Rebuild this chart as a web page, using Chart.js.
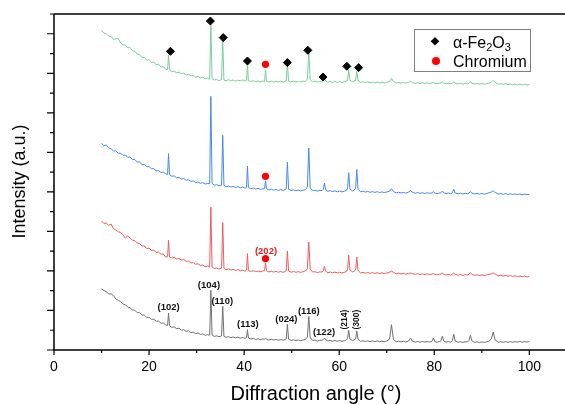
<!DOCTYPE html>
<html lang="en">
<head>
    <meta charset="UTF-8">
    <title>XRD patterns</title>
    <script src="https://cdn.jsdelivr.net/npm/chart.js"></script>
    <style>
        html, body { margin: 0; padding: 0; background: #fff; overflow: hidden; }
        canvas { display: block; }
    </style>
</head>
<body>
    <canvas id="xrdChart" width="565" height="405"></canvas>

    <script>
        // 2-theta positions shared by all four patterns
        const twoTheta = [
            10, 10.5, 11, 11.5, 12, 12.5, 13, 13.5, 14, 14.5, 15, 15.5, 16, 16.5, 17, 17.5, 18, 18.5, 19, 19.5, 20, 20.5, 21, 21.5, 22, 22.5, 23, 23.5,
            23.9, 24.1, 24.3,
            24.8, 25.3, 25.8, 26.3, 26.8, 27.3, 27.8, 28.3, 28.8, 29.3, 29.8, 30.3, 30.8, 31.3, 31.8, 32.3,
            32.75, 33.0, 33.25,
            33.7, 34.2, 34.7,
            35.25, 35.5, 35.75,
            36.2, 36.7, 37.2, 37.7, 38.2, 38.7, 39.2, 39.7, 40.2,
            40.5, 40.7, 40.9,
            41.4, 41.9, 42.4, 42.9, 43.4, 43.9,
            44.3, 44.5, 44.7,
            45.2, 45.7, 46.2, 46.7, 47.2, 47.7, 48.2, 48.6,
            48.85, 49.1, 49.35,
            49.9, 50.4, 50.9, 51.4, 51.9, 52.4, 52.9,
            53.3, 53.6, 53.9,
            54.4, 54.9, 55.4, 55.9, 56.4,
            56.65, 56.9, 57.15,
            57.6, 58.1, 58.6, 59.1, 59.6, 60.1, 60.6, 61.1, 61.5,
            61.75, 62.0, 62.25,
            62.85,
            63.45, 63.7, 63.95,
            64.5, 65, 65.5, 66, 66.5, 67, 67.5, 68, 68.5, 69, 69.5, 70,
            70.6, 71.0, 71.4,
            72, 72.5, 73, 73.5, 74,
            74.6, 75.0, 75.4,
            76, 76.5, 77, 77.5, 78, 78.5, 79,
            79.5, 79.8, 80.1,
            80.6, 81.1,
            81.4, 81.7, 82.0,
            82.5, 83, 83.5,
            83.8, 84.1, 84.4,
            85, 85.5, 86, 86.5, 87,
            87.3, 87.6, 87.9,
            88.5, 89, 89.5, 90, 90.5, 91, 91.5,
            92.0, 92.4, 92.8,
            93.5, 94, 94.5, 95, 95.5, 96, 96.5, 97, 97.5, 98, 98.5, 99, 99.5, 100
        ];

        // top pattern (green)
        const patternGreen = [
            319.5, 317.0, 316.2, 313.8, 313.5, 310.6, 311.2, 311.6, 307.0, 305.2, 305.0, 302.1, 302.4, 299.3, 298.8, 296.0, 295.5, 292.4, 292.6, 289.8, 290.3, 287.5, 288.0, 285.3, 285.8, 283.0, 283.4, 280.6,
            280.4, 294.7, 280.9,
            278.2, 279.0, 277.2, 277.9, 276.3, 276.9, 275.0, 275.7, 274.0, 274.6, 273.0, 273.6, 272.1, 272.9, 271.2, 271.8,
            270.8, 327.0, 271.2,
            270.0, 270.6, 269.4,
            270.3, 309.7, 269.8,
            269.2, 270.3, 269.1, 270.0, 268.9, 269.9, 269.2, 270.1, 269.0,
            269.6, 286.7, 269.3,
            268.4, 269.3, 268.2, 269.0, 268.1, 268.9,
            268.6, 280.2, 268.9,
            268.0, 268.9, 267.9, 268.8, 268.1, 268.9, 267.8, 268.6,
            269.2, 286.7, 268.8,
            268.0, 268.9, 267.9, 268.7, 268.0, 268.8, 268.6,
            271.0, 297.7, 270.5,
            268.2, 268.9, 267.9, 268.6, 268.3,
            269.2, 272.7, 269.0,
            267.8, 268.6, 267.7, 268.5, 267.6, 268.4, 267.5, 268.3, 268.5,
            270.0, 280.2, 269.8,
            268.2,
            269.8, 279.2, 269.5,
            267.6, 268.3, 267.4, 268.1, 267.3, 268.0, 267.2, 267.9, 267.1, 267.8, 267.0, 267.7,
            268.6, 271.7, 268.3,
            267.0, 267.6, 266.8, 267.5, 266.9,
            267.6, 268.9, 267.4,
            266.6, 267.3, 266.5, 267.2, 266.4, 267.1, 266.5,
            266.8, 267.8, 266.6,
            266.3, 267.0,
            267.0, 268.2, 266.8,
            266.2, 266.9, 266.1,
            266.8, 268.2, 266.6,
            266.0, 266.7, 265.9, 266.6, 266.2,
            266.8, 268.5, 266.7,
            265.9, 266.6, 265.8, 266.5, 265.8, 266.4, 266.9,
            268.0, 269.7, 267.6,
            265.7, 266.3, 265.6, 266.2, 265.4, 266.0, 265.3, 265.9, 265.2, 265.8, 265.1, 265.7, 265.0, 265.5
        ];

        // second pattern (blue)
        const patternBlue = [
            206.8, 204.2, 205.0, 202.0, 201.3, 199.0, 199.1, 196.8, 197.0, 194.6, 195.1, 192.7, 193.0, 190.4, 190.5, 188.0, 188.1, 185.3, 185.6, 183.2, 183.5, 181.2, 181.4, 179.2, 179.5, 177.5, 178.0, 176.0,
            175.6, 196.4, 175.3,
            173.8, 174.1, 172.2, 172.7, 171.0, 171.5, 169.8, 170.2, 168.6, 169.1, 167.5, 168.0, 166.7, 167.3, 166.0, 166.5,
            166.4, 253.7, 166.6,
            164.8, 165.3, 164.2,
            165.0, 214.7, 164.6,
            163.4, 164.0, 163.0, 163.6, 162.6, 163.3, 162.3, 162.9, 161.9,
            162.6, 184.0, 162.3,
            161.3, 162.0, 160.9, 161.6, 160.6, 161.2,
            161.5, 169.2, 161.3,
            160.1, 160.8, 159.8, 160.5, 159.6, 160.4, 159.5, 160.3,
            161.0, 188.0, 160.7,
            159.4, 160.1, 159.2, 159.9, 159.0, 159.8, 160.4,
            163.0, 202.0, 162.2,
            159.5, 159.8, 158.8, 159.6, 159.4,
            160.6, 167.0, 160.3,
            158.7, 159.3, 158.4, 159.1, 158.2, 158.9, 158.1, 158.8, 159.4,
            161.5, 177.4, 161.0,
            159.0,
            161.4, 180.4, 160.8,
            158.2, 158.9, 157.9, 158.6, 157.7, 158.4, 157.6, 158.3, 157.5, 158.1, 157.4, 158.0,
            158.8, 161.4, 158.5,
            157.2, 157.8, 157.0, 157.6, 156.9,
            157.8, 159.7, 157.6,
            156.8, 157.4, 156.6, 157.3, 156.5, 157.2, 156.7,
            157.0, 158.5, 156.9,
            156.4, 157.0,
            157.3, 159.0, 157.1,
            156.3, 156.9, 156.2,
            157.2, 160.7, 157.0,
            156.1, 156.8, 156.0, 156.7, 156.3,
            157.0, 158.5, 156.9,
            156.0, 156.6, 155.9, 156.5, 155.8, 156.4, 157.2,
            158.0, 159.2, 157.6,
            155.9, 156.4, 155.7, 156.3, 155.6, 156.2, 155.5, 156.1, 155.4, 156.0, 155.3, 155.9, 155.4, 155.7
        ];

        // third pattern (red)
        const patternRed = [
            129.0, 126.5, 127.0, 124.8, 126.0, 121.5, 120.0, 118.2, 117.5, 115.2, 112.0, 114.0, 112.2, 109.8, 109.5, 107.0, 106.4, 104.0, 104.0, 101.5, 101.8, 99.6, 99.8, 97.6, 97.9, 95.8, 96.0, 92.8,
            93.4, 109.7, 93.0,
            92.0, 92.6, 91.0, 91.5, 90.0, 90.5, 88.6, 89.0, 87.0, 87.5, 85.8, 86.2, 84.6, 85.0, 83.3, 83.8,
            83.0, 143.0, 83.2,
            81.5, 82.0, 81.0,
            81.8, 127.4, 81.5,
            80.4, 81.1, 80.0, 80.6, 79.6, 80.3, 79.2, 79.9, 79.0,
            79.8, 96.4, 79.5,
            78.6, 79.3, 78.4, 79.0, 78.2, 78.9,
            79.5, 87.0, 79.2,
            78.0, 78.8, 77.9, 78.6, 77.8, 78.5, 77.7, 78.4,
            79.2, 99.0, 78.9,
            77.8, 78.5, 77.7, 78.4, 77.6, 78.3, 79.0,
            81.5, 108.0, 80.8,
            78.0, 78.3, 77.4, 78.1, 78.0,
            79.2, 83.7, 78.9,
            77.3, 78.0, 77.2, 77.9, 77.1, 77.8, 77.0, 77.7, 78.4,
            80.5, 94.7, 80.0,
            78.0,
            80.0, 93.0, 79.5,
            77.0, 77.6, 76.8, 77.5, 76.7, 77.3, 76.6, 77.2, 76.5, 77.1, 76.4, 77.0,
            77.8, 79.0, 77.6,
            76.2, 76.8, 76.0, 76.6, 75.9,
            76.5, 77.0, 76.3,
            75.6, 76.3, 75.5, 76.2, 75.4, 76.1, 75.5,
            75.8, 76.5, 75.6,
            75.2, 75.9,
            76.0, 77.0, 75.8,
            75.0, 75.6, 74.9,
            75.8, 77.0, 75.6,
            74.8, 75.4, 74.6, 75.3, 75.0,
            75.8, 77.4, 75.6,
            74.6, 75.2, 74.5, 75.1, 74.4, 75.0, 75.6,
            76.3, 77.0, 75.8,
            74.2, 74.8, 74.0, 74.6, 73.8, 74.4, 73.6, 74.2, 73.5, 74.0, 73.3, 73.9, 73.1, 73.4
        ];

        // bottom pattern (grey)
        const patternGrey = [
            61.0, 59.5, 58.4, 56.0, 56.2, 54.5, 51.0, 49.8, 48.2, 46.0, 45.4, 43.0, 42.3, 40.0, 39.8, 37.4, 37.3, 35.0, 34.9, 32.6, 32.8, 30.7, 30.8, 28.8, 28.9, 26.9, 27.0, 25.0,
            24.6, 37.0, 24.3,
            22.6, 23.2, 21.3, 21.8, 19.9, 20.4, 18.6, 19.1, 17.3, 17.9, 16.4, 17.0, 15.6, 16.2, 14.7, 15.3,
            14.8, 59.7, 15.0,
            13.6, 14.2, 13.3,
            14.0, 43.7, 13.7,
            12.6, 13.3, 12.4, 13.0, 12.1, 12.8, 11.9, 12.5, 11.6,
            12.2, 20.4, 12.0,
            11.0, 11.6, 10.6, 11.2, 10.3, 11.0,
            10.8, 11.8, 10.6,
            10.0, 10.7, 9.9, 10.5, 9.8, 10.4, 9.7, 10.4,
            11.0, 25.7, 10.8,
            9.6, 10.2, 9.4, 10.1, 9.3, 10.0, 10.6,
            13.0, 33.7, 12.3,
            9.6, 9.9, 9.0, 9.7, 9.8,
            10.6, 12.0, 10.4,
            9.0, 9.6, 8.8, 9.5, 8.7, 9.4, 8.7, 9.3, 10.0,
            11.5, 19.7, 11.0,
            9.4,
            11.2, 19.0, 10.8,
            8.6, 9.2, 8.5, 9.1, 8.4, 9.0, 8.4, 9.0, 8.3, 8.9, 8.3, 9.0,
            11.0, 25.4, 10.6,
            8.3, 8.8, 8.1, 8.7, 8.0,
            9.0, 12.0, 8.8,
            7.9, 8.5, 7.8, 8.6, 7.9, 8.4, 8.0,
            8.6, 12.0, 8.4,
            7.8, 8.5,
            9.2, 13.7, 9.0,
            7.8, 8.4, 7.7,
            9.3, 15.7, 9.0,
            7.7, 8.3, 7.6, 8.2, 8.0,
            9.5, 14.7, 9.2,
            7.6, 8.2, 7.5, 8.1, 7.6, 8.2, 8.8,
            11.0, 18.0, 10.0,
            7.7, 8.3, 7.6, 8.4, 7.7, 8.3, 7.8, 8.4, 7.9, 8.5, 7.8, 8.4, 8.0, 8.3
        ];

        // phase markers on the patterns
        const hematiteTheta = [24.5, 32.9, 35.6, 40.7, 49.1, 53.4, 56.6, 61.6, 64.1];
        const hematiteI = [298.7, 329.0, 312.4, 289.0, 287.4, 299.7, 273.0, 283.7, 282.4];
        const chromiumTheta = [44.5, 44.5, 44.5];
        const chromiumI = [285.7, 173.7, 91.4];

        // Miller indices on the bottom pattern
        const hklText = ['(102)', '(104)', '(110)', '(113)', '(024)', '(116)', '(122)', '(214)', '(300)'];
        const hklTheta = [24.1, 32.6, 35.4, 40.8, 48.9, 53.6, 56.8, 61.1, 63.7];
        const hklI = [42.4, 64.7, 48.4, 25.7, 30.4, 39.0, 17.4, 30.4, 30.4];
        const hklUpright = ['(214)', '(300)'];
        const chromiumHkl = { text: '(202)', theta: 44.6, i: 98.7 };

        const xTickValues = [0, 20, 40, 60, 80, 100];
        const yMax = 336;
        const yMinorStep = yMax / 17;

        const pts = (xs, ys) => xs.map((v, i) => ({ x: v, y: ys[i] }));
        const font = '"Liberation Sans", Arial, sans-serif';

        function trace(values, color) {
            return {
                data: pts(twoTheta, values),
                borderColor: color,
                borderWidth: 1,
                pointRadius: 0,
                tension: 0,
                fill: false,
                borderJoinStyle: 'round'
            };
        }

        // axes frame, ticks, titles, labels and legend
        const decorations = {
            id: 'decorations',
            afterDraw(chart) {
                const { ctx, chartArea: a, scales: { x, y } } = chart;
                ctx.save();

                ctx.strokeStyle = '#000';
                ctx.lineWidth = 1.5;
                ctx.beginPath();
                ctx.moveTo(a.left, a.top);
                ctx.lineTo(a.right, a.top);
                ctx.moveTo(a.left, a.top);
                ctx.lineTo(a.left, a.bottom);
                ctx.lineTo(a.right, a.bottom);
                ctx.stroke();

                ctx.lineWidth = 1.2;
                ctx.beginPath();
                for (let v = 0; v <= 100; v += 10) {
                    const px = x.getPixelForValue(v);
                    ctx.moveTo(px, a.bottom);
                    ctx.lineTo(px, a.bottom + (v % 20 === 0 ? 5 : 3));
                }
                for (let k = 0; k <= 17; k++) {
                    const py = y.getPixelForValue(k * yMinorStep);
                    ctx.moveTo(a.left, py);
                    ctx.lineTo(a.left - (k % 2 === 0 ? 7 : 4), py);
                }
                ctx.stroke();

                // tick labels
                ctx.fillStyle = '#000';
                ctx.textAlign = 'center';
                ctx.textBaseline = 'middle';
                ctx.font = '14px ' + font;
                xTickValues.forEach(v => ctx.fillText(String(v), x.getPixelForValue(v), a.bottom + 17.5));

                // axis titles
                ctx.font = '20px ' + font;
                ctx.fillText('Diffraction angle (°)', 316, 394);
                ctx.save();
                ctx.translate(20, 181.5);
                ctx.rotate(-Math.PI / 2);
                ctx.font = '18px ' + font;
                ctx.fillText('Intensity (a.u.)', 0, 0);
                ctx.restore();

                // Miller indices
                ctx.fillStyle = '#111';
                hklText.forEach((t, i) => {
                    const px = x.getPixelForValue(hklTheta[i]);
                    const py = y.getPixelForValue(hklI[i]);
                    if (hklUpright.includes(t)) {
                        ctx.save();
                        ctx.translate(px, py);
                        ctx.rotate(-Math.PI / 2);
                        ctx.font = 'bold 8.5px ' + font;
                        ctx.fillText(t, 0, 0);
                        ctx.restore();
                    } else {
                        ctx.font = 'bold 9.5px ' + font;
                        ctx.fillText(t, px, py);
                    }
                });
                ctx.fillStyle = '#e02020';
                ctx.font = 'bold 9.5px ' + font;
                ctx.fillText(chromiumHkl.text, x.getPixelForValue(chromiumHkl.theta), y.getPixelForValue(chromiumHkl.i));

                // legend box
                ctx.fillStyle = '#fff';
                ctx.fillRect(414.5, 29.5, 116, 42);
                ctx.strokeStyle = '#808080';
                ctx.lineWidth = 1;
                ctx.strokeRect(414.5, 29.5, 116, 42);

                ctx.fillStyle = '#000';
                ctx.beginPath();
                ctx.moveTo(435, 37);
                ctx.lineTo(439.3, 41.3);
                ctx.lineTo(435, 45.6);
                ctx.lineTo(430.7, 41.3);
                ctx.closePath();
                ctx.fill();

                ctx.fillStyle = '#f00';
                ctx.beginPath();
                ctx.arc(436, 61, 4, 0, Math.PI * 2);
                ctx.fill();

                ctx.fillStyle = '#000';
                ctx.textAlign = 'left';
                ctx.textBaseline = 'alphabetic';
                let tx = 453;
                const parts = [['α-Fe', 0], ['2', 1], ['O', 0], ['3', 1]];
                parts.forEach(([s, sub]) => {
                    ctx.font = (sub ? '11px ' : '16px ') + font;
                    ctx.fillText(s, tx, sub ? 51 : 48);
                    tx += ctx.measureText(s).width;
                });
                ctx.font = '16px ' + font;
                ctx.fillText('Chromium', 453, 67);

                ctx.restore();
            }
        };

        new Chart(document.getElementById('xrdChart'), {
            type: 'line',
            data: {
                datasets: [
                    {
                        data: pts(hematiteTheta, hematiteI),
                        showLine: false,
                        pointStyle: 'rectRot',
                        pointRadius: 4,
                        backgroundColor: '#000',
                        borderColor: '#000',
                        borderWidth: 1
                    },
                    {
                        data: pts(chromiumTheta, chromiumI),
                        showLine: false,
                        pointStyle: 'circle',
                        pointRadius: 3.6,
                        backgroundColor: '#f00',
                        borderColor: '#f00',
                        borderWidth: 0
                    },
                    trace(patternGreen, '#78cf9a'),
                    trace(patternBlue, '#4688ee'),
                    trace(patternRed, '#f05a5a'),
                    trace(patternGrey, '#707070')
                ]
            },
            options: {
                responsive: false,
                animation: false,
                devicePixelRatio: 1,
                layout: { autoPadding: false, padding: { top: 14, right: 0, bottom: 0, left: 0 } },
                plugins: {
                    legend: { display: false },
                    tooltip: { enabled: false }
                },
                scales: {
                    x: {
                        type: 'linear',
                        min: 0,
                        max: 107.5,
                        grid: { display: false, drawTicks: false },
                        border: { display: false },
                        ticks: { display: false },
                        afterFit: s => { s.height = 55; }
                    },
                    y: {
                        min: 0,
                        max: yMax,
                        grid: { display: false, drawTicks: false },
                        border: { display: false },
                        ticks: { display: false },
                        afterFit: s => { s.width = 54; }
                    }
                }
            },
            plugins: [decorations]
        });
    </script>
</body>
</html>
